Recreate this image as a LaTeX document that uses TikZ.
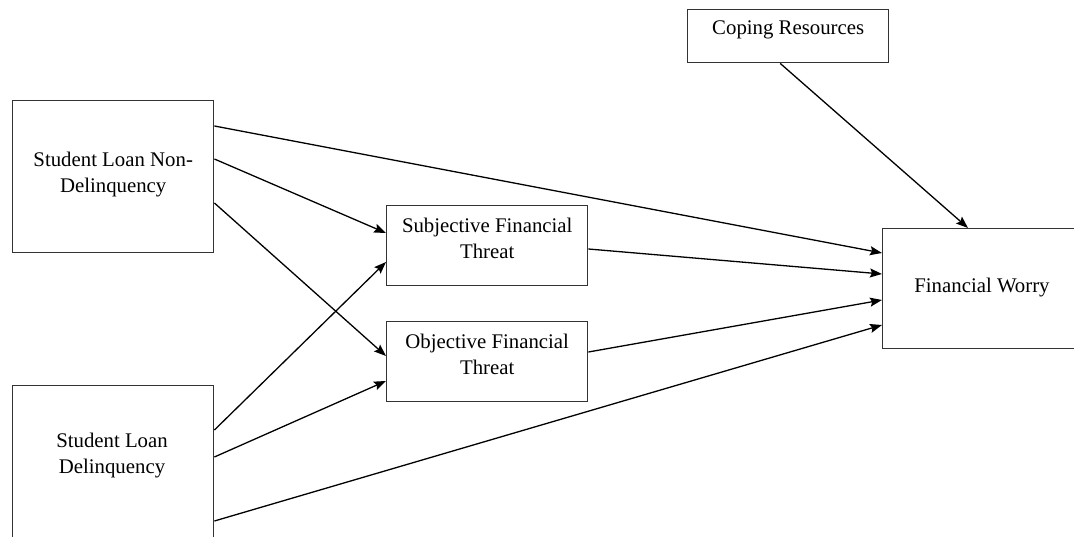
\documentclass[tikz,border=0pt]{standalone}
\usepackage{fontspec}
\setmainfont{Liberation Serif}
\usetikzlibrary{arrows,arrows.meta}

\begin{document}
\begin{tikzpicture}[x=1pt,y=-1pt,>={Stealth[length=12pt,width=9pt,inset=2pt]},
		var box/.style={draw=black!80,line width=1.4pt,fill=white,minimum width=201pt,anchor=north west,inner sep=0pt},
		var text/.style={align=center,font=\fontsize{20.8}{26}\selectfont}]
		
		\clip (0,0) rectangle (1074,537);
		
		\node[var box,minimum height=53pt] (coping) at (687,9) {};
		\node[var box,minimum height=152pt] (nondel) at (12,100) {};
		\node[var box,minimum height=165pt] (del) at (12,385) {};
		\node[var box,minimum height=80pt] (subj) at (386,205) {};
		\node[var box,minimum height=80pt] (obj) at (386,321) {};
		\node[var box,minimum height=120pt] (worry) at (882,228) {};
		
		\node[var text] (coping text) at ([yshift=6pt]coping.center) {Coping Resources};
		\node[var text] (nondel text) at ([yshift=2pt]nondel.center) {Student Loan Non-\\Delinquency};
		\node[var text] (del text) at (112,456) {Student Loan\\Delinquency};
		\node[var text] (subj text) at ([yshift=7pt]subj.center) {Subjective Financial\\Threat};
		\node[var text] (obj text) at ([yshift=7pt]obj.center) {Objective Financial\\Threat};
		\node[var text] (worry text) at (982,288) {Financial Worry};
		
		\path[->,line width=1.3pt]
		([yshift=-26pt]nondel.north east) edge ([yshift=-25pt]worry.north west)
		([yshift=-59pt]nondel.north east) edge ([yshift=-28pt]subj.north west)
		([yshift=-103pt]nondel.north east) edge ([yshift=-35pt]obj.north west)
		([yshift=-45pt]del.north east) edge ([yshift=-57pt]subj.north west)
		([yshift=-72pt]del.north east) edge ([yshift=-60pt]obj.north west)
		([yshift=-136pt]del.north east) edge ([yshift=-97pt]worry.north west)
		([yshift=-44pt]subj.north east) edge ([yshift=-46pt]worry.north west)
		([yshift=-31pt]obj.north east) edge ([yshift=-72pt]worry.north west)
		([xshift=-8pt]coping.south) edge ([xshift=86pt]worry.north west)
		;
\end{tikzpicture}
\end{document}
